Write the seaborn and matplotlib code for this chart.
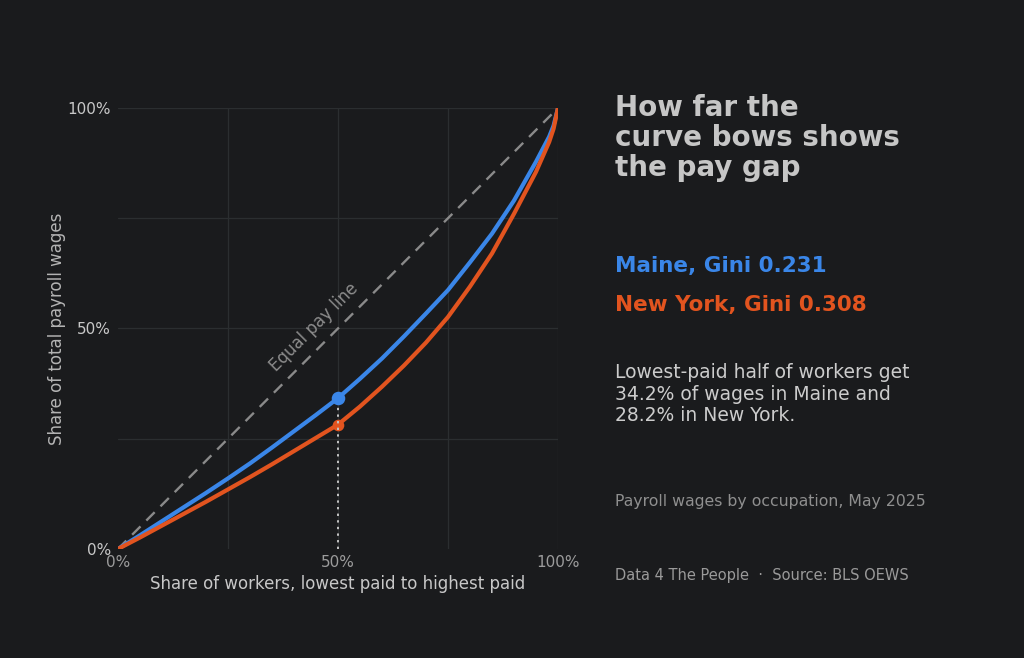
import pandas as pd
import matplotlib.pyplot as plt
import seaborn as sns

# cumulative share of workers (x) and of payroll wages (y), in percent
worker_share = [0, 5, 10, 15, 20, 25, 30, 35, 40, 45, 50, 55, 60, 65, 70, 75, 80, 85, 90, 95, 98, 99, 100]
maine_wages = [0, 3.1, 6.3, 9.5, 12.7, 16.0, 19.4, 23.0, 26.7, 30.4, 34.2, 38.6, 43.2, 48.2, 53.4, 58.7,
               65.0, 71.5, 79.0, 87.8, 93.5, 96.0, 100]
new_york_wages = [0, 2.6, 5.3, 8.0, 10.7, 13.5, 16.3, 19.2, 22.2, 25.2, 28.2, 32.3, 36.8, 41.6, 46.8, 52.6,
                  59.5, 67.0, 76.0, 85.5, 92.3, 95.3, 100]

states = ["Maine", "New York"]
gini = [0.231, 0.308]
bottom_half_share = [34.2, 28.2]
state_colors = ["#3a86e8", "#e2541f"]

tick_values = [0, 25, 50, 75, 100]
tick_labels = ["0%", "", "50%", "", "100%"]

BG = "#1a1b1d"


def build_frame():
    maine = pd.DataFrame({"workers": worker_share, "wages": maine_wages, "state": "Maine"})
    ny = pd.DataFrame({"workers": worker_share, "wages": new_york_wages, "state": "New York"})
    return pd.concat([maine, ny], ignore_index=True)


def plot_lorenz(df):
    sns.set_theme(style="dark", rc={
        "figure.facecolor": BG,
        "axes.facecolor": BG,
        "grid.color": "#2b2e30",
        "grid.linewidth": 0.9,
    })
    plt.rcParams["font.family"] = ["DejaVu Sans"]

    fig = plt.figure(figsize=(10.24, 6.58), dpi=100)
    ax = fig.add_axes([0.1152, 0.1657, 0.4297, 0.6702])

    # equal pay diagonal
    ax.axline((0, 0), (100, 100), color="#8a8a8a", lw=1.7, ls=(0, (5, 3.5)), zorder=2)
    ax.text(44.5, 50.3, "Equal pay line", rotation=45, rotation_mode="anchor",
            ha="center", va="center", color="#8c8c8c", fontsize=12)

    sns.lineplot(data=df, x="workers", y="wages", hue="state", hue_order=states,
                 palette=state_colors, lw=3.0, legend=False, estimator=None,
                 sort=False, ax=ax, zorder=3)

    ax.vlines(50, 0, bottom_half_share[0], colors="#c4c4c4", lw=1.4, ls=(0, (1.2, 2.2)), zorder=4)
    ax.scatter([50], [bottom_half_share[0]], s=95, color=state_colors[0], zorder=5, linewidths=0)
    ax.scatter([50], [bottom_half_share[1]], s=70, color=state_colors[1], zorder=3.5, linewidths=0)

    ax.set_xlim(0, 100)
    ax.set_ylim(0, 100)
    ax.set_xticks(tick_values, tick_labels)
    ax.set_yticks(tick_values, tick_labels)
    ax.grid(True)
    # no gridline along the 0% edges
    ax.xaxis.get_gridlines()[0].set_visible(False)
    ax.yaxis.get_gridlines()[0].set_visible(False)
    ax.tick_params(axis="x", length=0, labelsize=11, labelcolor="#9c9c9c", pad=4)
    ax.tick_params(axis="y", length=0, labelsize=11, labelcolor="#c8c8c8", pad=5)
    for s in ax.spines.values():
        s.set_visible(False)
    ax.set_xlabel("Share of workers, lowest paid to highest paid", fontsize=12, color="#c8c8c8", labelpad=4)
    ax.set_ylabel("Share of total payroll wages", fontsize=12, color="#b4b4b4", labelpad=1)

    # right-hand annotation column
    fig.text(0.6006, 0.857, "How far the\ncurve bows shows\nthe pay gap", fontsize=20, fontweight="bold",
             color="#c6c6c6", va="top", ha="left", linespacing=1.08)
    fig.text(0.6006, 0.5957, f"{states[0]}, Gini {gini[0]:.3f}", fontsize=15.5, fontweight="bold",
             color=state_colors[0], va="center")
    fig.text(0.6006, 0.5365, f"{states[1]}, Gini {gini[1]:.3f}", fontsize=15.5, fontweight="bold",
             color=state_colors[1], va="center")
    fig.text(0.6006, 0.4483,
             f"Lowest-paid half of workers get\n{bottom_half_share[0]}% of wages in {states[0]} and\n"
             f"{bottom_half_share[1]}% in {states[1]}.",
             fontsize=13.5, color="#cccccc", va="top", linespacing=1.17)
    fig.text(0.6006, 0.2371, "Payroll wages by occupation, May 2025", fontsize=11.3,
             color="#8f8f8f", va="center")
    fig.text(0.6006, 0.1261, "Data 4 The People  \u00b7  Source: BLS OEWS", fontsize=10.5,
             color="#9a9a9a", va="center")

    fig.savefig("out.png", dpi=100, facecolor=BG)


if __name__ == "__main__":
    plot_lorenz(build_frame())
